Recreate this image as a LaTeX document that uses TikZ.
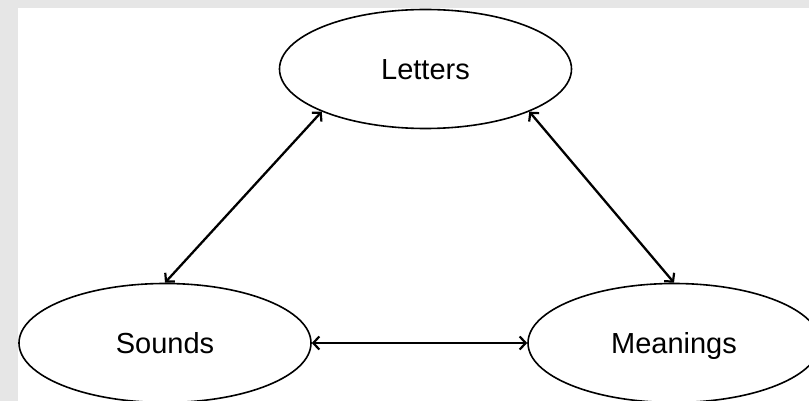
\documentclass[tikz,border=0pt]{standalone}
\usepackage{fontspec}
\setmainfont{Liberation Sans}
\usetikzlibrary{arrows.meta,shapes.geometric}
\definecolor{frame}{HTML}{E6E6E6}
\begin{document}
\begin{tikzpicture}[x=1pt,y=-1pt,
  concept/.style={ellipse,draw=black,line width=1.6pt,fill=white,
    minimum width=292pt,minimum height=119pt,inner sep=0pt,
    font=\fontsize{29}{34}\selectfont,text height=21pt,text depth=0pt},
  barb/.tip={Straight Barb[length=6pt,width=13pt,line width=2.2pt]},
  link/.style={line width=2.3pt,{barb}-{barb}}]
  % page frame
  \useasboundingbox (0,0) rectangle (809,401);
  \clip (0,0) rectangle (809,401);
  \fill[frame] (0,0) rectangle (809,401);
  \fill[white] (18,8) rectangle (809,401);
  % the three concepts
  \node[concept] (letters)  at (425.5,69) {Letters};
  \node[concept] (sounds)   at (165,343)  {Sounds};
  \node[concept] (meanings) at (674,343)  {Meanings};
  % two-way links
  \draw[link] (letters.south west) -- (sounds.north);
  \draw[link] (letters.south east) -- (meanings.north);
  \draw[link] (sounds.east) -- (meanings.west);
\end{tikzpicture}
\end{document}
